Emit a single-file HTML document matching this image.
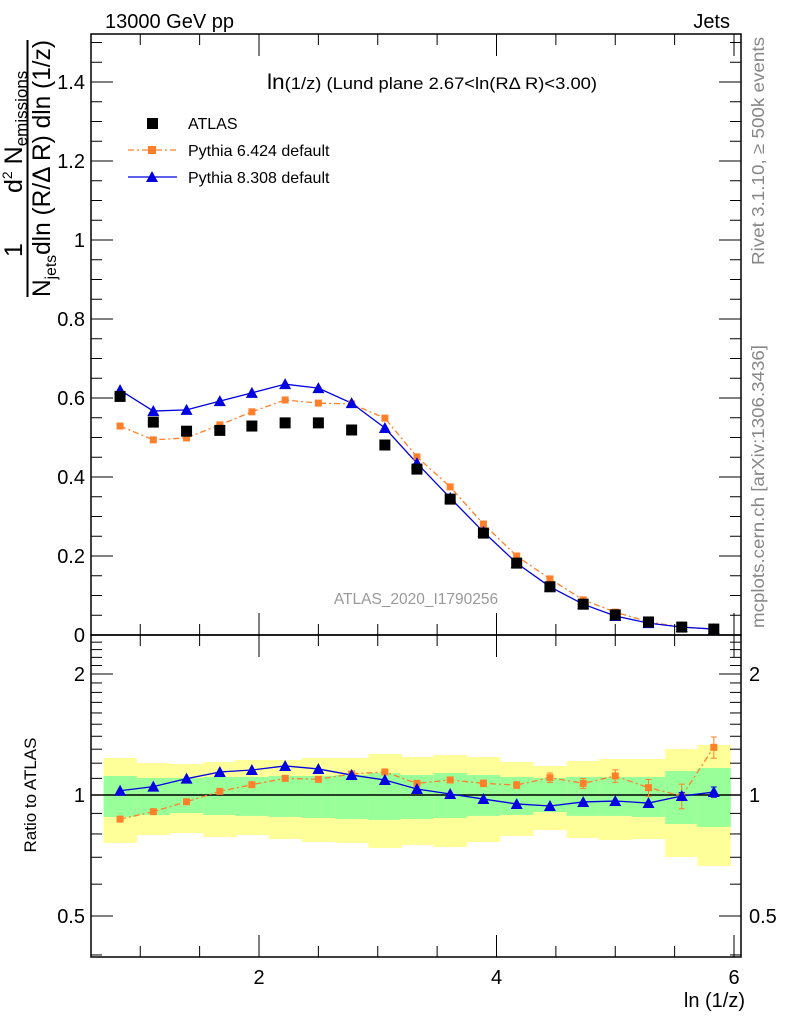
<!DOCTYPE html>
<html><head><meta charset="utf-8"><style>
html,body{margin:0;padding:0;background:#fff;}
svg{display:block;font-family:"Liberation Sans",sans-serif;}
</style></head><body>
<svg id="c" width="786" height="1024" viewBox="0 0 786 1024" xmlns="http://www.w3.org/2000/svg">
<g id="bands"></g>
<g id="marks"></g>
<g id="axes"></g>
<text x="105" y="28" font-size="20">13000 GeV pp</text>
<text x="730" y="28" font-size="20" text-anchor="end">Jets</text>
<text x="267" y="89" font-size="17" textLength="330" lengthAdjust="spacingAndGlyphs"><tspan font-size="21">ln</tspan>(1/z) (Lund plane 2.67&lt;ln(RΔ R)&lt;3.00)</text>
<g>
<rect x="147" y="118" width="11" height="11" fill="#000"/>
<text x="188" y="129" font-size="16">ATLAS</text>
<line x1="128" y1="150" x2="177" y2="150" stroke="#ff7f2a" stroke-width="1.2" stroke-dasharray="6,3,2,3"/>
<rect x="148" y="146" width="8" height="8" fill="#ff7f2a"/>
<text x="188" y="156" font-size="16">Pythia 6.424 default</text>
<line x1="128" y1="177" x2="177" y2="177" stroke="#0000e0" stroke-width="1.2"/>
<polygon points="152,171 146,182 158,182" fill="#0000e0"/>
<text x="188" y="183" font-size="16">Pythia 8.308 default</text>
</g>
<text x="416" y="604" font-size="15.5" fill="#999" text-anchor="middle">ATLAS_2020_I1790256</text>
<text transform="translate(764,265) rotate(-90)" font-size="17.5" fill="#888" textLength="228" lengthAdjust="spacingAndGlyphs">Rivet 3.1.10, ≥ 500k events</text>
<text transform="translate(764,628) rotate(-90)" font-size="17.5" fill="#888" textLength="283" lengthAdjust="spacingAndGlyphs">mcplots.cern.ch [arXiv:1306.3436]</text>
<g transform="translate(0,297) rotate(-90)">
<text x="40" y="22" font-size="25">1</text>
<line x1="0" y1="27.5" x2="257" y2="27.5" stroke="#000" stroke-width="2"/>
<text x="0" y="50" font-size="25" textLength="257" lengthAdjust="spacingAndGlyphs">N<tspan font-size="16" dy="6">jets</tspan><tspan dy="-6">dln (R/Δ R) dln (1/z)</tspan></text>
<text x="104" y="22" font-size="25">d<tspan font-size="14" dy="-10">2</tspan><tspan dy="10"> N</tspan><tspan font-size="17" dy="5">emissions</tspan></text>
</g>
<text transform="translate(36,795) rotate(-90)" font-size="17" text-anchor="middle">Ratio to ATLAS</text>
<text x="745" y="1007" font-size="20" text-anchor="end">ln (1/z)</text>
</svg>
<script>
const xCenters=[0.83,1.11,1.39,1.67,1.94,2.22,2.5,2.78,3.06,3.33,3.61,3.89,4.17,4.45,4.73,5.0,5.28,5.56,5.83];
const atlas=[0.604,0.539,0.516,0.518,0.529,0.537,0.537,0.519,0.481,0.42,0.344,0.258,0.182,0.122,0.078,0.051,0.033,0.02,0.015];
const py6=[0.529,0.494,0.499,0.532,0.565,0.595,0.587,0.585,0.549,0.451,0.375,0.281,0.2,0.142,0.089,0.058,0.033,0.02,0.015];
const py8=[0.62,0.567,0.57,0.592,0.613,0.635,0.625,0.587,0.524,0.435,0.347,0.261,0.182,0.122,0.078,0.048,0.03,0.02,0.015];
const r6=[0.871,0.909,0.962,1.021,1.061,1.1,1.094,1.128,1.141,1.069,1.09,1.069,1.059,1.104,1.069,1.115,1.043,0.994,1.314];
const r6err=[0,0,0,0,0,0,0,0,0,0.01,0.01,0.02,0.02,0.03,0.03,0.04,0.05,0.07,0.08];
const r8=[1.025,1.049,1.098,1.141,1.154,1.181,1.161,1.121,1.09,1.035,1.006,0.977,0.95,0.939,0.961,0.966,0.955,0.994,1.017];
const r8err=[0,0,0,0,0,0,0,0,0,0,0,0,0,0,0,0,0,0.02,0.03];
const yelHi=[1.236,1.201,1.194,1.208,1.222,1.222,1.236,1.236,1.265,1.243,1.257,1.243,1.208,1.181,1.215,1.229,1.229,1.301,1.332];
const yelLo=[0.76,0.795,0.804,0.786,0.795,0.777,0.764,0.76,0.738,0.751,0.742,0.764,0.791,0.818,0.782,0.773,0.777,0.701,0.666];
const grnHi=[1.115,1.102,1.102,1.109,1.109,1.115,1.115,1.121,1.134,1.121,1.134,1.121,1.109,1.102,1.109,1.109,1.109,1.147,1.167];
const grnLo=[0.882,0.892,0.902,0.892,0.887,0.882,0.877,0.872,0.867,0.872,0.877,0.887,0.892,0.907,0.887,0.887,0.882,0.847,0.833];
const mainTicks=["0","0.2","0.4","0.6","0.8","1","1.2","1.4"];
const xTickLabels=["2","4","6"];
const ratioTickLabels=["0.5","1","2"];
const NS="http://www.w3.org/2000/svg";
const L=91,R=741,T=34,MB=635,RB=957;
const X=v=>21.5+v*118.75;
const Y=v=>635-v*395;
const YR=v=>795-Math.log2(v)*121;
const binW=0.278;
function mk(p,tag,a){const e=document.createElementNS(NS,tag);for(const k in a)e.setAttribute(k,a[k]);p.appendChild(e);return e;}
const bands=document.getElementById('bands'),marks=document.getElementById('marks'),axes=document.getElementById('axes');
xCenters.forEach((c,i)=>{
 const x0=X(c-binW/2),w=X(c+binW/2)-x0;
 let e=mk(bands,'rect',{x:x0,y:YR(yelHi[i]),width:w+0.5,height:YR(yelLo[i])-YR(yelHi[i]),fill:'#ffff99'});
 
 
 e=mk(bands,'rect',{x:x0,y:YR(grnHi[i]),width:w+0.5,height:YR(grnLo[i])-YR(grnHi[i]),fill:'#99ff99'});
 
 
});
let ref=mk(marks,'line',{x1:L,x2:R,y1:YR(1),y2:YR(1),stroke:'#000','stroke-width':1.5});


function line(vals,fy,col,dash,name){
 const pts=xCenters.map((c,i)=>X(c)+','+fy(vals[i])).join(' ');
 const a={points:pts,fill:'none',stroke:col,'stroke-width':1.3};
 if(dash)a['stroke-dasharray']='6,3,2,3';
 const e=mk(marks,'polyline',a);
 
 
}
function sq(x,y,s,col,name){const e=mk(marks,'rect',{x:x-s/2,y:y-s/2,width:s,height:s,fill:col});
 
 }
function tri(x,y,col,name){const e=mk(marks,'polygon',{points:`${x},${y-6} ${x-6},${y+5} ${x+6},${y+5}`,fill:col});
 
 }
function err(x,v,e,fy,col){if(!e)return;const l=mk(marks,'path',{d:`M${x},${fy(v+e)}V${fy(v-e)}M${x-3},${fy(v+e)}h6M${x-3},${fy(v-e)}h6`,stroke:col,'stroke-width':1,fill:'none'});
 
 }
line(py6,Y,'#ff7f2a',true,'py6-line');
line(py8,Y,'#0000e0',false,'py8-line');
xCenters.forEach((c,i)=>{sq(X(c),Y(py6[i]),7,'#ff7f2a','py6-point');});
xCenters.forEach((c,i)=>{tri(X(c),Y(py8[i]),'#0000e0','py8-point');});
xCenters.forEach((c,i)=>{sq(X(c),Y(atlas[i]),11,'#000','atlas-point');});
line(r6,YR,'#ff7f2a',true,'py6-ratio-line');
line(r8,YR,'#0000e0',false,'py8-ratio-line');
xCenters.forEach((c,i)=>{err(X(c),r6[i],r6err[i],YR,'#ff7f2a');sq(X(c),YR(r6[i]),7,'#ff7f2a','py6-ratio-point');});
xCenters.forEach((c,i)=>{err(X(c),r8[i],r8err[i],YR,'#0000e0');tri(X(c),YR(r8[i]),'#0000e0','py8-ratio-point');});
mk(axes,'rect',{x:L,y:T,width:R-L,height:MB-T,fill:'none',stroke:'#000','stroke-width':1.5});
mk(axes,'rect',{x:L,y:MB,width:R-L,height:RB-MB,fill:'none',stroke:'#000','stroke-width':1.5});
function tk(x1,y1,x2,y2){mk(axes,'line',{x1,y1,x2,y2,stroke:'#000','stroke-width':1});}
function txt(x,y,s,size,anc,name){const e=mk(axes,'text',{x,y,'font-size':size,'text-anchor':anc});e.textContent=s;
 
 }
for(let v=0;v<=1.5001;v+=0.05){const y=Y(v);if(y<T)continue;const maj=Math.abs(v*5-Math.round(v*5))<1e-6;const len=maj?22:11;tk(L,y,L+len,y);tk(R,y,R-len,y);}
mainTicks.forEach(s=>txt(L-6,Y(parseFloat(s))+7,s,20,'end','main-y-tick-label'));
for(let v=1;v<=6.01;v+=0.5){const x=X(v);if(x<L||x>R)continue;const maj=Math.abs(v%2)<1e-6;const len=maj?22:11;
 tk(x,T,x,T+len);tk(x,MB,x,MB-len);tk(x,MB,x,MB+len);tk(x,RB,x,RB-len);}
xTickLabels.forEach(s=>txt(X(parseFloat(s)),984,s,20,'middle','x-tick-label'));
[0.4,0.5,0.6,0.7,0.8,0.9,1,1.1,1.2,1.3,1.4,1.5,1.6,1.7,1.8,1.9,2,2.1,2.2,2.3,2.4].forEach(v=>{const y=YR(v);if(y<MB||y>RB)return;const maj=(v===0.5||v===1||v===2);const len=maj?22:11;tk(L,y,L+len,y);tk(R,y,R-len,y);});
ratioTickLabels.forEach(s=>{const y=YR(parseFloat(s))+7;txt(L-6,y,s,20,'end','ratio-y-tick-label');txt(R+8,y,s,20,'start','ratio-y-tick-label-right');});
</script>
</body></html>
